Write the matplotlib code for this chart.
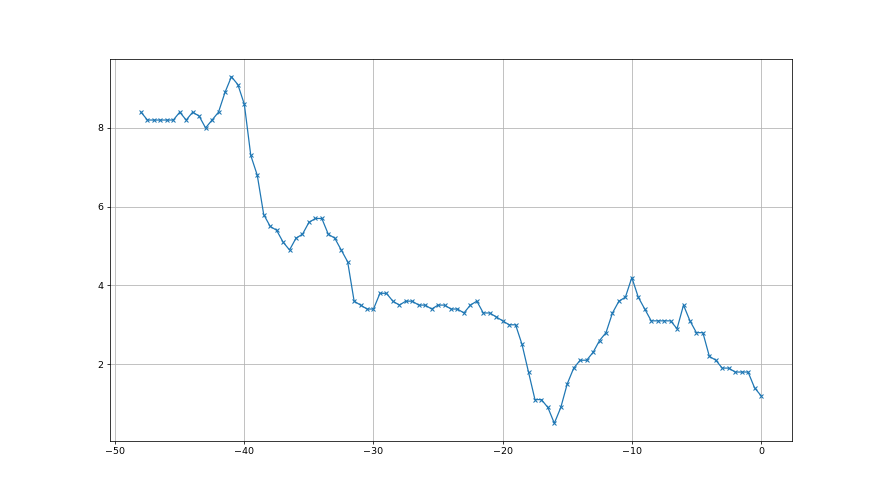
import numpy as np
import matplotlib
matplotlib.use("Agg")
import matplotlib.pyplot as plt

x_start = -48.0
x_step = 0.5
values = [
    8.4, 8.2, 8.2, 8.2, 8.2, 8.2, 8.4, 8.2, 8.4, 8.3,
    8.0, 8.2, 8.4, 8.9, 9.3, 9.1, 8.6, 7.3, 6.8, 5.8,
    5.5, 5.4, 5.1, 4.9, 5.2, 5.3, 5.6, 5.7, 5.7, 5.3,
    5.2, 4.9, 4.6, 3.6, 3.5, 3.4, 3.4, 3.8, 3.8, 3.6,
    3.5, 3.6, 3.6, 3.5, 3.5, 3.4, 3.5, 3.5, 3.4, 3.4,
    3.3, 3.5, 3.6, 3.3, 3.3, 3.2, 3.1, 3.0, 3.0, 2.5,
    1.8, 1.1, 1.1, 0.9, 0.5, 0.9, 1.5, 1.9, 2.1, 2.1,
    2.3, 2.6, 2.8, 3.3, 3.6, 3.7, 4.2, 3.7, 3.4, 3.1,
    3.1, 3.1, 3.1, 2.9, 3.5, 3.1, 2.8, 2.8, 2.2, 2.1,
    1.9, 1.9, 1.8, 1.8, 1.8, 1.4, 1.2,
]
xs = x_start + x_step * np.arange(len(values))

fig, ax = plt.subplots(figsize=(12.8, 7.2), dpi=68.75)
ax.plot(xs, values, marker='x', markersize=5, linewidth=1.3, markeredgewidth=1.1)
ax.grid(True)
fig.savefig("out.png", dpi=68.75)
